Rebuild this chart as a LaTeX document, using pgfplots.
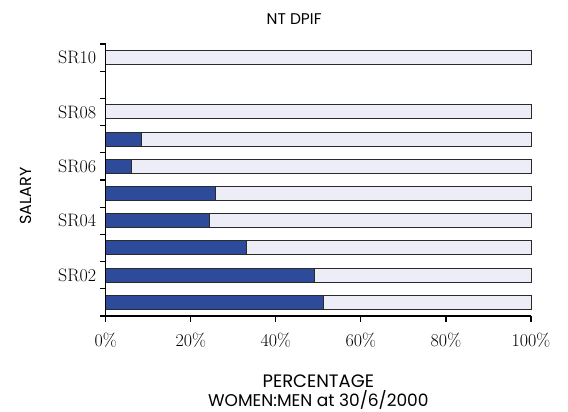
\documentclass[border=0pt]{standalone}
\usepackage{pgfplots}
\pgfplotsset{compat=1.18}
\usepackage{fontspec}
\newfontfamily\labfont{Poppins}
\definecolor{women}{HTML}{2E4A9B}
\definecolor{men}{HTML}{EDEDF7}
\definecolor{edge}{HTML}{2A2A2A}
\begin{document}
\begin{tikzpicture}
\useasboundingbox (-105.7pt,-96pt) rectangle (462.3pt,316pt);
\begin{axis}[
  at={(0,0)}, anchor=south west,
  width=425.3pt, height=272pt, scale only axis,
  xbar stacked, bar width=14pt,
  xmin=0, xmax=100, ymin=0.5, ymax=10.5,
  axis x line*=bottom, axis y line*=left,
  axis line style={-, line width=1.4pt, black},
  xtick={0,20,40,60,80,100},
  xticklabels={0\%,20\%,40\%,60\%,80\%,100\%},
  ytick={2,4,6,8,10},
  yticklabels={SR02,SR04,SR06,SR08,SR10},
  minor ytick={0.5,1.5,2.5,3.5,4.5,5.5,6.5,7.5,8.5,9.5,10.5},
  major y tick style={draw=none},
  tick align=outside, major tick length=6pt, minor tick length=6pt,
  tick style={black, line width=1.2pt},
  ticklabel style={font=\fontsize{18}{20}\selectfont},
  xticklabel style={yshift=-7pt},
  clip=false, axis on top,
]
\addplot[fill=women, draw=edge, line width=1pt] coordinates {(51.2,1) (49,2) (33,3) (24.4,4) (25.9,5) (6.1,6) (8.4,7) (0,8) (0,10)};
\addplot[fill=men, draw=edge, line width=1pt] coordinates {(48.8,1) (51,2) (67,3) (75.6,4) (74.1,5) (93.9,6) (91.6,7) (100,8) (100,10)};
\node[font=\labfont\fontsize{15.5}{17}\selectfont, anchor=base] at ([yshift=19pt]rel axis cs:0.443,1) {NT DPIF};
\node[font=\labfont\fontsize{18}{20}\selectfont, anchor=base] at ([yshift=-71pt]rel axis cs:0.5,0) {PERCENTAGE};
\node[font=\labfont\fontsize{17}{19}\selectfont, anchor=base] at ([yshift=-90pt]rel axis cs:0.5,0) {WOMEN:MEN at 30/6/2000};
\node[font=\labfont\fontsize{16}{18}\selectfont, rotate=90, anchor=base] at ([xshift=-73.7pt]rel axis cs:0,0.441) {SALARY};
\end{axis}
\end{tikzpicture}
\end{document}
